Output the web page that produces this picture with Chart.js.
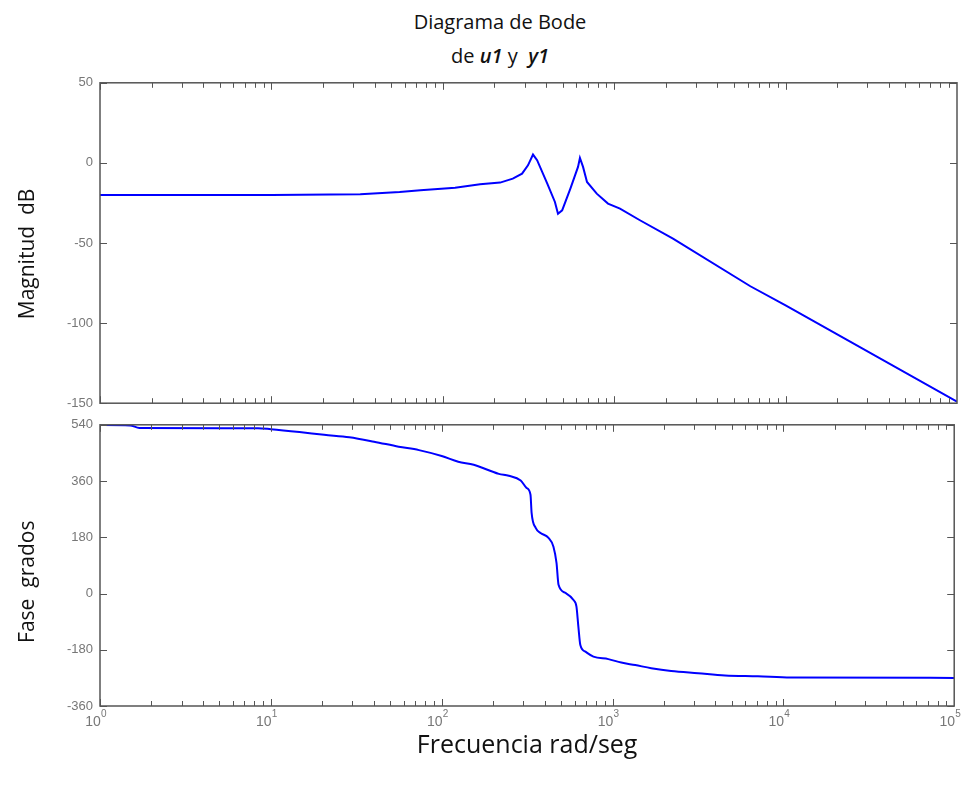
<!DOCTYPE html>
<html>
<head>
<meta charset="utf-8">
<script src="https://cdn.jsdelivr.net/npm/chart.js@4.4.1/dist/chart.umd.min.js"></script>
<style>
  body { margin: 0; background: #fff; overflow: hidden; }
  #wrap { position: relative; width: 970px; height: 789px; }
  #titulo {
    position: absolute; left: 0; top: 5px; width: 1000px;
    text-align: center; font-family: "Open Sans", sans-serif;
    font-size: 20px; line-height: 34px; color: #111;
  }
  #titulo i { font-weight: 600; }
  canvas { position: absolute; left: 0; }
</style>
</head>
<body>
<div id="wrap">
  <div id="titulo">Diagrama de Bode<br>de <i>u1</i> y&nbsp; <i>y1</i></div>
  <canvas id="magChart" width="970" height="350" style="top:68px"></canvas>
  <canvas id="faseChart" width="970" height="379" style="top:410px"></canvas>
</div>
<script>
// --- DATOS ---
const decadas = [1, 10, 100, 1000, 10000, 100000];

const frecMag = [1, 10, 33, 56, 74, 118, 165, 216, 256, 290,
  314, 336, 355, 407, 451, 470, 497, 555, 615, 631,
  658, 694, 791, 920, 1081, 1413, 2203, 6230, 10000, 100000];
const magDb = [-20, -20, -19.6, -18.2, -17, -15.5, -13.3, -12.3, -9.8, -6.7,
  -1.5, 5.2, 1.7, -12.9, -24.4, -31.7, -29.6, -16, -2.5, 3.1,
  -2.5, -11.9, -19.2, -25.4, -28.5, -35.8, -47.3, -77, -89, -149];

const frecFase = [1, 1.5, 1.7, 8.4, 10, 14.7, 20.5, 28.8, 40.2, 56,
  73.6, 100, 125, 154, 216, 247, 290, 314, 331, 336,
  355, 379, 422, 451, 470, 483, 531, 591, 615, 631,
  648, 694, 773, 945, 1125, 1358, 1684, 2203, 3169, 4553,
  7092, 11050, 100000];
const faseGrados = [539, 538, 530, 529, 526, 517, 508, 500, 486, 470,
  459, 440, 422, 412, 383, 377, 362, 338, 316, 258,
  210, 194, 178, 150, 98, 28, 2, -21, -42, -106,
  -165, -186, -202, -210, -221, -229, -239, -248, -255, -262,
  -265, -269, -270];

const ticksMag = [50, 0, -50, -100, -150];
const ticksFase = [540, 360, 180, 0, -180, -360];

const puntos = (xs, ys) => xs.map((v, i) => ({ x: v, y: ys[i] }));

// marco tipo matlab: caja, ticks hacia dentro, exponentes de las decadas
const marcoBode = {
  id: "marcoBode",
  afterDraw(chart, args, opts) {
    const { ctx, chartArea: a, scales } = chart;
    const sx = scales.x, sy = scales.y;
    ctx.save();
    ctx.strokeStyle = "#555";
    ctx.lineWidth = 1;
    ctx.beginPath();
    for (let d = 1; d < 100000; d *= 10) {
      for (let m = 1; m < 10; m++) {
        const px = Math.round(sx.getPixelForValue(d * m)) + 0.5;
        const len = m === 1 ? 7 : 5;
        ctx.moveTo(px, a.bottom); ctx.lineTo(px, a.bottom - len);
        ctx.moveTo(px, a.top); ctx.lineTo(px, a.top + len);
      }
    }
    sy.ticks.forEach((t) => {
      const py = Math.round(sy.getPixelForValue(t.value)) + 0.5;
      ctx.moveTo(a.left, py); ctx.lineTo(a.left + 7, py);
      ctx.moveTo(a.right, py); ctx.lineTo(a.right - 7, py);
    });
    ctx.stroke();
    ctx.lineWidth = 1.5;
    ctx.strokeStyle = "#555";
    ctx.strokeRect(a.left, a.top, a.right - a.left, a.bottom - a.top);

    if (opts.exponentes) {
      ctx.fillStyle = "#777";
      ctx.font = "10px 'Liberation Sans'";
      ctx.textAlign = "left";
      ctx.textBaseline = "alphabetic";
      decadas.forEach((v, i) => {
        const px = sx.getPixelForValue(v);
        ctx.fillText(String(i), px + 1, a.bottom + 11);
      });
    }
    ctx.restore();
  }
};

function opcionesY(min, max, paso, valores, titulo) {
  return {
    type: "linear",
    min, max,
    afterFit: (s) => { s.width = 100; },
    afterBuildTicks: (s) => { s.ticks = valores.map((v) => ({ value: v })); },
    grid: { display: false, drawTicks: false },
    border: { display: false },
    ticks: {
      stepSize: paso,
      padding: 7,
      color: "#777",
      font: { family: "Liberation Sans", size: 13 }
    },
    title: {
      display: true,
      text: titulo,
      color: "#111",
      font: { family: "Open Sans", size: 21 },
      padding: { top: 15, bottom: 0 }
    }
  };
}

function opcionesX(mostrar) {
  return {
    type: "logarithmic",
    min: 1, max: 100000,
    display: mostrar,
    afterFit: (s) => { if (mostrar) s.height = 62; },
    afterBuildTicks: (s) => { s.ticks = decadas.map((v) => ({ value: v })); },
    grid: { display: false, drawTicks: false },
    border: { display: false },
    ticks: {
      autoSkip: false,
      maxRotation: 0,
      padding: 8,
      labelOffset: -7,
      color: "#777",
      font: { family: "Liberation Sans", size: 14 },
      callback: () => "10"
    },
    title: {
      display: mostrar,
      text: "Frecuencia rad/seg",
      color: "#111",
      font: { family: "Open Sans", size: 25 },
      padding: { top: 0, bottom: 7 }
    }
  };
}

const comunes = {
  responsive: false,
  animation: false,
  devicePixelRatio: 1,
  events: [],
  elements: { point: { radius: 0 } }
};

new Chart(document.getElementById("magChart"), {
  type: "line",
  data: {
    datasets: [{
      data: puntos(frecMag, magDb),
      borderColor: "#0000ff",
      borderWidth: 2,
      tension: 0,
      fill: false
    }]
  },
  options: {
    ...comunes,
    layout: { padding: { top: 0, bottom: 0, left: 0, right: 13 } },
    plugins: { legend: { display: false }, tooltip: { enabled: false }, marcoBode: { exponentes: false } },
    scales: {
      x: opcionesX(false),
      y: opcionesY(-150, 50, 50, ticksMag, "Magnitud  dB\u00a0\u00a0\u00a0\u00a0")
    }
  },
  plugins: [marcoBode]
});

new Chart(document.getElementById("faseChart"), {
  type: "line",
  data: {
    datasets: [{
      data: puntos(frecFase, faseGrados),
      borderColor: "#0000ff",
      borderWidth: 2,
      cubicInterpolationMode: "monotone",
      fill: false
    }]
  },
  options: {
    ...comunes,
    layout: { padding: { top: 0, bottom: 21, left: 0, right: 13 } },
    plugins: { legend: { display: false }, tooltip: { enabled: false }, marcoBode: { exponentes: true } },
    scales: {
      x: opcionesX(true),
      y: opcionesY(-360, 540, 180, ticksFase, "Fase  grados\u00a0\u00a0\u00a0\u00a0\u00a0\u00a0")
    }
  },
  plugins: [marcoBode]
});
</script>
</body>
</html>
